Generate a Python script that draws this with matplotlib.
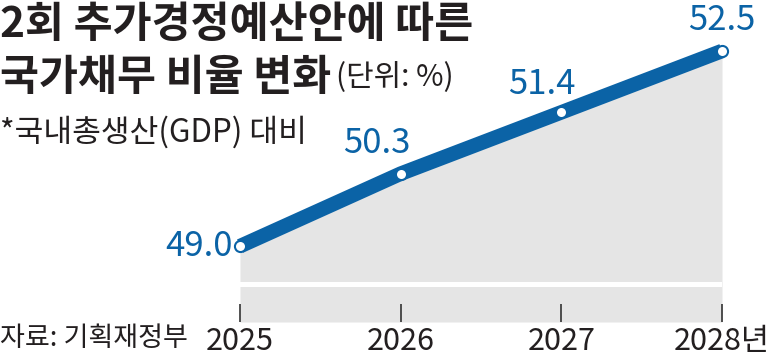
import matplotlib.pyplot as plt
from matplotlib.transforms import ScaledTranslation

plt.rcParams['font.family'] = ['Noto Sans CJK KR', 'DejaVu Sans']

years = ['2025', '2026', '2027', '2028년']
ratio = [49.0, 50.3, 51.4, 52.5]
x = list(range(len(years)))

W, H = 771, 358
fig = plt.figure(figsize=(W / 100, H / 100), dpi=100)

def fx(px):
    return px / W

def fy(py):
    return 1 - py / H

# axes placed by pixel edges: x 240..722, y 22..322
ax = fig.add_axes([fx(240), fy(322), fx(722) - fx(240), fy(22) - fy(322)])
ymin, ymax = 47.64, 53.02
ax.set_xlim(0, 3)
ax.set_ylim(ymin, ymax)

blue = '#0b63a6'
ax.fill_between(x, ratio, ymin, color='#e5e5e5', lw=0, zorder=1)
# axis break band
ax.axhspan(48.26, 48.35, color='white', lw=0, zorder=1.5)
ax.plot(x, ratio, color=blue, lw=10.5, solid_capstyle='butt', zorder=3, clip_on=False)
ax.plot(x, ratio, 'o', ms=8, mfc='white', mec=blue, mew=1.5, zorder=4, clip_on=False)

offsets = [(-5, 0), (-17, 22), (-14, 20), (0, 22)]
aligns = ['right', 'center', 'center', 'center']
for xi, v, off, ha in zip(x, ratio, offsets, aligns):
    ax.annotate(f'{v:.1f}', (xi, v), xytext=off, textcoords='offset points',
                ha=ha, va='center', fontsize=25, fontweight='light', color=blue, zorder=5)

ax.set_xticks(x)
ax.set_xticklabels(years, fontweight='light')
ax.set_yticks([])
ax.tick_params(axis='x', direction='in', length=13, width=1.2, color='#333333',
               labelsize=22, labelcolor='#231f20', pad=3)
last = ax.get_xticklabels()[-1]
last.set_ha('right')
last.set_transform(last.get_transform() + ScaledTranslation(0.48, 0, fig.dpi_scale_trans))
for s in ax.spines.values():
    s.set_visible(False)
ax.patch.set_alpha(0)

txt = '#231f20'
fig.text(fx(0), fy(25), '2회 추가경정예산안에 따른', fontsize=30.5, fontweight='heavy',
         color=txt, va='center', ha='left')
fig.text(fx(0), fy(78), '국가채무 비율 변화', fontsize=30.5, fontweight='heavy',
         color=txt, va='center', ha='left')
fig.text(fx(336), fy(78), '(단위: %)', fontsize=21.5, fontweight='light', color=txt,
         va='center', ha='left')
fig.text(fx(0), fy(132), '*국내총생산(GDP) 대비', fontsize=22.5, fontweight='light', color=txt,
         va='center', ha='left')
fig.text(fx(0), fy(338), '자료: 기획재정부', fontsize=19.5, fontweight='light', color=txt,
         va='center', ha='left')

fig.savefig('out.png', dpi=100)
